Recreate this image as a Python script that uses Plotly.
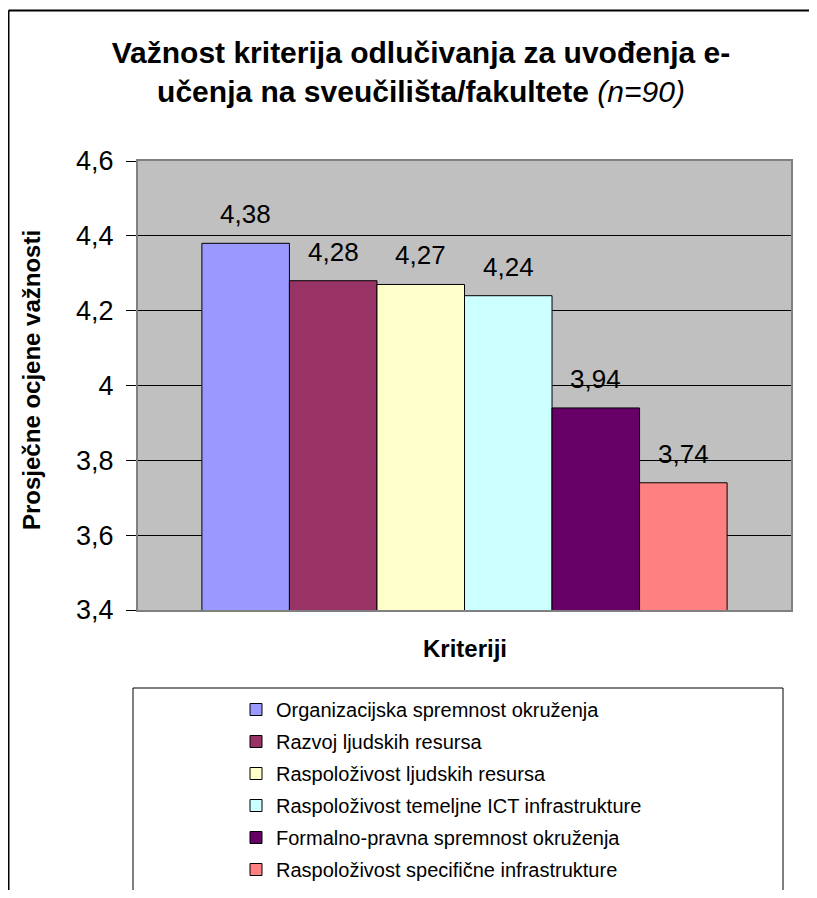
import plotly.graph_objects as go

categories = [
    "Organizacijska spremnost okruženja",
    "Razvoj ljudskih resursa",
    "Raspoloživost ljudskih resursa",
    "Raspoloživost temeljne ICT infrastrukture",
    "Formalno-pravna spremnost okruženja",
    "Raspoloživost specifične infrastrukture",
]
values = [4.38, 4.28, 4.27, 4.24, 3.94, 3.74]
colors = ["#9999FF", "#993366", "#FFFFCC", "#CCFFFF", "#660066", "#FF8080"]
y_ticks = [3.4, 3.6, 3.8, 4.0, 4.2, 4.4, 4.6]

# page offset of the plotly div (body margin)
OFF = 8
W, H = 817 - 2 * OFF, 898 - 2 * OFF
# plot area in page coordinates
L, R, T, B = 138 - OFF, 791 - OFF, 161 - OFF, 610 - OFF
PW, PH = R - L, B - T


def px(x):
    """page x -> paper"""
    return (x - OFF - L) / PW


def py(y):
    """page y -> paper"""
    return 1 - (y - OFF - T) / PH


FONT = "Liberation Sans, Arial, sans-serif"

fig = go.Figure()
for i, (name, v, c) in enumerate(zip(categories, values, colors)):
    fig.add_trace(go.Bar(
        x=[i], y=[v], name=name, width=1,
        marker=dict(color=c, line=dict(color="black", width=1)),
        legendgroup=name,
        hoverinfo="skip",
    ))
    fig.add_annotation(
        x=i, y=v, xref="x", yref="y", text=f"{v:.2f}".replace(".", ","),
        showarrow=False, xanchor="center", yanchor="bottom", yshift=12,
        font=dict(family=FONT, size=26, color="black"),
    )

fig.update_layout(
    width=W, height=H,
    margin=dict(l=L, r=W - R, t=T, b=H - B, autoexpand=False),
    paper_bgcolor="white",
    plot_bgcolor="#C0C0C0",
    barmode="overlay",
    separators=",.",
    showlegend=True,
    title=dict(
        text="<b>Važnost kriterija odlučivanja za uvođenja e-<br>učenja na sveučilišta/fakultete</b> <i>(n=90)</i>",
        x=(421 - OFF) / W, xanchor="center", xref="container",
        y=1 - (63 - OFF) / H, yanchor="middle", yref="container",
        font=dict(family=FONT, size=30, color="black"),
    ),
    legend=dict(
        x=px(236), xanchor="left", y=py(690), yanchor="top",
        font=dict(family=FONT, size=20, color="black"),
        bgcolor="rgba(0,0,0,0)", borderwidth=0,
        tracegroupgap=3, traceorder="grouped",
    ),
    xaxis=dict(
        range=[-1.23, 6.23], showticklabels=False, ticks="",
        showgrid=False, zeroline=False,
        showline=True, mirror=True, linecolor="#808080", linewidth=2,
    ),
    yaxis=dict(
        range=[3.4, 4.6], tickvals=y_ticks,
        ticks="outside", ticklen=10, tickcolor="black", tickwidth=1,
        ticklabelstandoff=7,
        tickfont=dict(family=FONT, size=27, color="black"),
        showgrid=True, gridcolor="#000000", gridwidth=1,
        zeroline=False,
        showline=True, mirror=True, linecolor="#808080", linewidth=2,
    ),
)

fig.add_annotation(
    x=px(31), y=py(380), xref="paper", yref="paper",
    xanchor="center", yanchor="middle",
    text="<b>Prosječne ocjene važnosti</b>", textangle=-90, showarrow=False,
    font=dict(family=FONT, size=24, color="black"),
)
fig.add_annotation(
    x=px(465), y=py(648), xref="paper", yref="paper",
    xanchor="center", yanchor="middle",
    text="<b>Kriteriji</b>", showarrow=False,
    font=dict(family=FONT, size=24, color="black"),
)

# outer chart frame: only top and left edges are inside the page
fig.add_shape(type="line", xref="paper", yref="paper",
              x0=px(8.5), x1=px(830), y0=py(10.5), y1=py(10.5),
              line=dict(color="black", width=2), layer="below")
fig.add_shape(type="line", xref="paper", yref="paper",
              x0=px(8.5), x1=px(8.5), y0=py(10.5), y1=py(910),
              line=dict(color="black", width=2), layer="below")
# legend frame: top, left, right edges
for (xa, ya, xb, yb) in [(133, 688, 783, 688), (133, 688, 133, 910), (783, 688, 783, 910)]:
    fig.add_shape(type="line", xref="paper", yref="paper",
                  x0=px(xa), x1=px(xb), y0=py(ya), y1=py(yb),
                  line=dict(color="black", width=1), layer="below")

fig.write_html("out.html")
